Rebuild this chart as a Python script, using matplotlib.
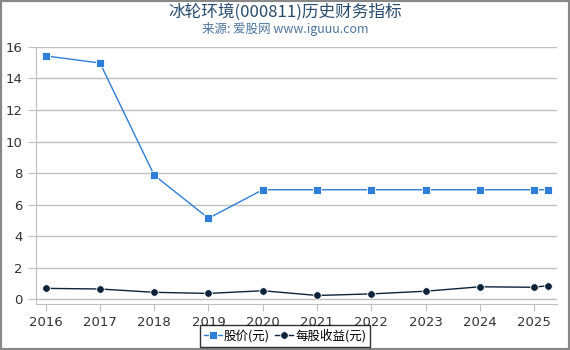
import matplotlib.pyplot as plt
from matplotlib.patches import Rectangle

plt.rcParams['font.family'] = ['Noto Sans CJK SC', 'DejaVu Sans']

# Données
annees = [2016, 2017, 2018, 2019, 2020, 2021, 2022, 2023, 2024, 2025, 2025.25]
prix = [15.43, 14.98, 7.87, 5.14, 6.95, 6.95, 6.95, 6.95, 6.95, 6.95, 6.95]
bpa = [0.70, 0.66, 0.45, 0.38, 0.55, 0.25, 0.35, 0.52, 0.80, 0.77, 0.87]
xticks = list(range(2016, 2026))
yticks = list(range(0, 17, 2))

fig = plt.figure(figsize=(5.7, 3.5), dpi=100)
ax = fig.add_axes([0.063, 0.131, 0.914, 0.735])

ax.plot(annees, prix, color='#2f7ed8', lw=1, marker='s', ms=5.5,
        mec='white', mew=0.6, label='股价(元)', zorder=3)
ax.plot(annees, bpa, color='#0d233a', lw=1, marker='o', ms=5.5,
        mec='white', mew=0.6, label='每股收益(元)', zorder=3)

ax.set_xlim(2015.82, 2025.42)
ax.set_ylim(-0.3, 16)
ax.set_xticks(xticks)
ax.set_yticks(yticks)
ax.grid(axis='y', color='#c0c0c0', lw=1)
ax.tick_params(axis='both', colors='#c0c0c0', labelcolor='#333333', labelsize=9.5, length=5)
ax.tick_params(axis='y', length=6)
for lab in ax.get_xticklabels() + ax.get_yticklabels():
    lab.set_family('DejaVu Sans')
for s in ['top', 'right']:
    ax.spines[s].set_visible(False)
for s in ['left', 'bottom']:
    ax.spines[s].set_color('#c0c0c0')

fig.text(0.5, 0.965, '冰轮环境(000811)历史财务指标', ha='center', va='center',
         fontsize=12, color='#274b6d')
fig.text(0.5, 0.918, '来源: 爱股网 www.iguuu.com', ha='center', va='center',
         fontsize=9, color='#4d759e')

leg = fig.legend(loc='center', bbox_to_anchor=(0.5, 0.04), ncol=2, frameon=True,
                 fontsize=9, handlelength=1.4, handletextpad=0.2, columnspacing=0.4,
                 borderpad=0.3, borderaxespad=0.2, fancybox=False)
leg.get_frame().set_edgecolor('black')
leg.get_frame().set_linewidth(1)

fig.patches.append(Rectangle((0, 0), 1, 1, transform=fig.transFigure, fill=False,
                             edgecolor='#888888', lw=3))

fig.savefig('out.png', dpi=100)
